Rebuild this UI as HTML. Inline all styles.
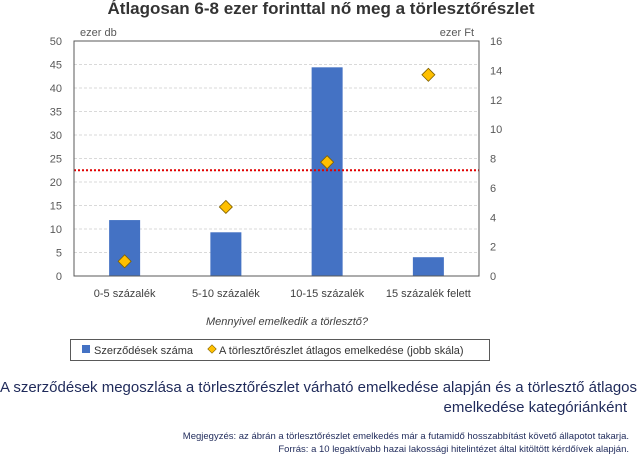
<!DOCTYPE html>
<html><head><meta charset="utf-8"><style>
body{margin:0;background:#fff;width:640px;height:457px;overflow:hidden;font-family:"Liberation Sans",sans-serif}
svg{position:absolute;left:0;top:0}
</style></head><body>
<svg width="640" height="457" viewBox="0 0 640 457" id="chart">
<text x="321" y="14" text-anchor="middle" font-size="17" font-weight="bold" fill="#333">Átlagosan 6-8 ezer forinttal nő meg a törlesztőrészlet</text>
<text x="80" y="36" font-size="11" fill="#595959">ezer db</text>
<text x="474" y="36" font-size="11" fill="#595959" text-anchor="end">ezer Ft</text>
<g id="grid"></g><g id="bars"></g><g id="marks"></g><g id="axes"></g>
<text x="287" y="325" text-anchor="middle" font-size="11" font-style="italic" fill="#404040">Mennyivel emelkedik a törlesztő?</text>
<g>
<rect x="70.5" y="339.5" width="419" height="21" fill="#fff" stroke="#595959"/>
<rect x="82" y="345" width="8" height="8" fill="#4472c4"/>
<text x="94" y="354" font-size="11" fill="#333">Szerződések száma</text>
<rect x="209" y="346" width="6" height="6" transform="rotate(45 212 349)" fill="#ffc000" stroke="#7f6000" stroke-width="0.6"/>
<text x="219" y="354" font-size="11" fill="#333">A törlesztőrészlet átlagos emelkedése (jobb skála)</text>
</g>
<text x="0" y="392" font-size="15" fill="#1f2a5a">A szerződések megoszlása a törlesztőrészlet várható emelkedése alapján és a törlesztő átlagos</text>
<text x="627" y="412" font-size="15" fill="#1f2a5a" text-anchor="end">emelkedése kategóriánként</text>
<text x="629" y="439" font-size="9.5" fill="#1f2a5a" text-anchor="end">Megjegyzés: az ábrán a törlesztőrészlet emelkedés már a futamidő hosszabbítást követő állapotot takarja.</text>
<text x="629" y="452" font-size="9.5" fill="#1f2a5a" text-anchor="end">Forrás: a 10 legaktívabb hazai lakossági hitelintézet által kitöltött kérdőívek alapján.</text>
</svg>
<script>
const categories=["0-5 százalék","5-10 százalék","10-15 százalék","15 százalék felett"];
const contracts=[11.9,9.3,44.4,4.0];
const avgIncrease=[1.0,4.7,7.75,13.7];
const leftTicks=[0,5,10,15,20,25,30,35,40,45,50];
const rightTicks=[0,2,4,6,8,10,12,14,16];
const refLine=22.5;
const NS="http://www.w3.org/2000/svg";
const X0=74,X1=479,Y0=276,Y1=41;
const yL=v=>Y0-(v/50)*(Y0-Y1);
const yR=v=>Y0-(v/16)*(Y0-Y1);
const bw=(X1-X0)/categories.length;
const xC=i=>X0+bw*(i+0.5);
function mk(tag,attrs,parent){const e=document.createElementNS(NS,tag);for(const k in attrs)e.setAttribute(k,attrs[k]);document.getElementById(parent).appendChild(e);return e;}
leftTicks.forEach(t=>{
 if(t>0){const g=mk('line',{x1:X0,x2:X1,y1:yL(t),y2:yL(t),stroke:'#d9d9d9','stroke-dasharray':'3,2'},'grid');
 
 }
 const l=mk('text',{x:62,y:yL(t)+4,'text-anchor':'end','font-size':11,fill:'#595959'},'axes');l.textContent=t;
 
 
});
rightTicks.forEach(t=>{
 const l=mk('text',{x:490,y:yR(t)+4,'font-size':11,fill:'#595959'},'axes');l.textContent=t;
 
 
});
categories.forEach((c,i)=>{
 const b=mk('rect',{x:xC(i)-15.5,y:yL(contracts[i]),width:31,height:Y0-yL(contracts[i]),fill:'#4472c4'},'bars');
 
 
 const l=mk('text',{x:xC(i),y:297,'text-anchor':'middle','font-size':11,fill:'#404040'},'axes');l.textContent=c;
 
 
});
const rl=mk('line',{x1:X0,x2:X1,y1:yL(refLine),y2:yL(refLine),stroke:'#e00000','stroke-width':2,'stroke-dasharray':'2,2'},'marks');


avgIncrease.forEach((v,i)=>{
 const cx=xC(i),cy=yR(v);
 const d=mk('polygon',{points:`${cx},${cy-6.5} ${cx+6.5},${cy} ${cx},${cy+6.5} ${cx-6.5},${cy}`,fill:'#ffc000',stroke:'#7f6000','stroke-width':0.8},'marks');
 
 
});
const fr=mk('rect',{x:X0,y:Y1,width:X1-X0,height:Y0-Y1,fill:'none',stroke:'#595959','stroke-width':1},'axes');


</script>
</body></html>
